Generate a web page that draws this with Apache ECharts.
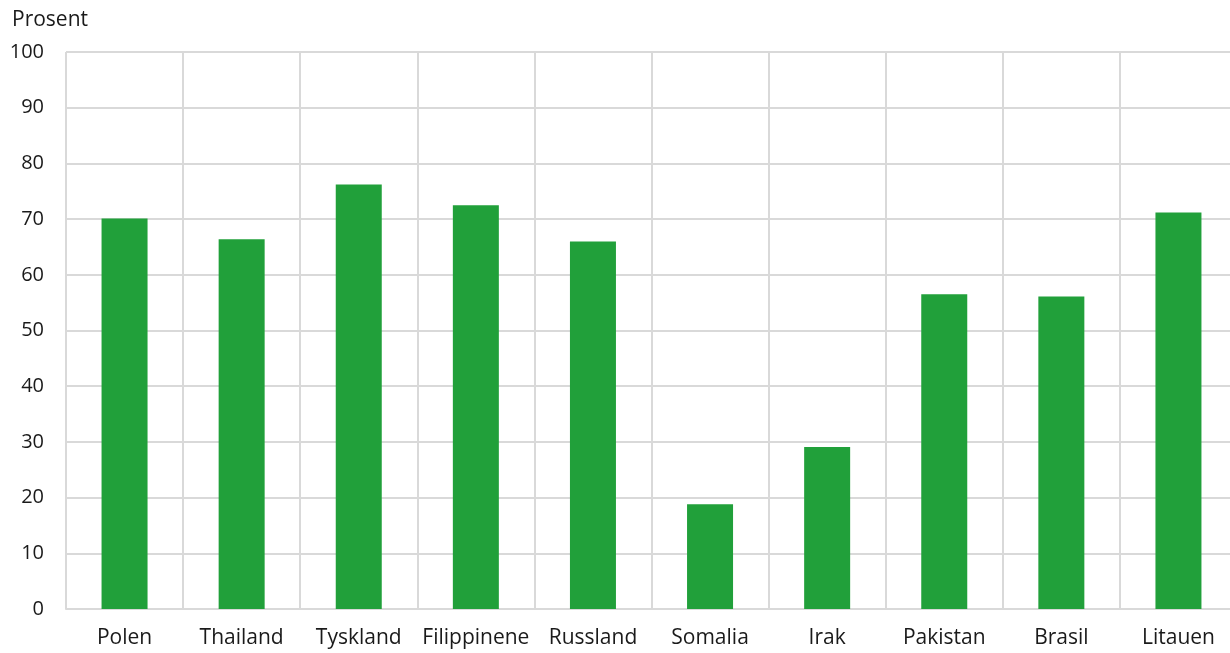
<!DOCTYPE html>
<html><head><meta charset="utf-8">
<script src="https://cdn.jsdelivr.net/npm/echarts@6/dist/echarts.min.js"></script>
<style>html,body{margin:0;padding:0;background:#fff;overflow:hidden}#c{width:1250px;height:653px}</style>
</head><body><div id="c"></div>
<script>
const categories = ["Polen","Thailand","Tyskland","Filippinene","Russland","Somalia","Irak","Pakistan","Brasil","Litauen"];
const values = [70.1, 66.4, 76.2, 72.5, 66.0, 18.8, 29.1, 56.5, 56.1, 71.2];
const yTicks = [0,10,20,30,40,50,60,70,80,90,100];
const chart = echarts.init(document.getElementById('c'), null, {renderer:'canvas'});
const font = 'Open Sans';
chart.setOption({
  animation:false,
  grid:{left:66, top:52, width:1171, height:557, containLabel:false},
  graphic:[{type:'text', left:12, top:10, style:{text:'Prosent', font:'21px "Open Sans"', fill:'#1a1a1a'}}],
  xAxis:{type:'category', data:categories,
    axisLine:{show:true, lineStyle:{color:'#d9d9d9', width:2}},
    axisTick:{show:false},
    splitLine:{show:true, lineStyle:{color:'#d9d9d9', width:2}},
    axisLabel:{color:'#1a1a1a', fontFamily:font, fontSize:21, margin:19, interval:0}},
  yAxis:{type:'value', min:0, max:100, interval:10,
    axisLine:{show:false}, axisTick:{show:false},
    splitLine:{show:true, lineStyle:{color:'#d9d9d9', width:2}},
    axisLabel:{color:'#1a1a1a', fontFamily:font, fontSize:20, margin:22,
      formatter:v=>yTicks.includes(v)?String(v):''}},
  series:[{type:'bar', data:values, barWidth:46, itemStyle:{color:'#21a03a'}}]
});
</script></body></html>
